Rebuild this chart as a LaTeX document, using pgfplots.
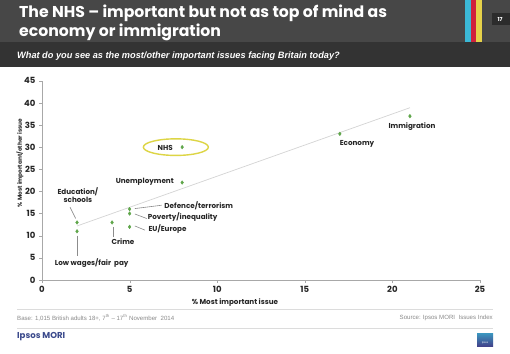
\documentclass[border=0pt]{standalone}
\usepackage{pgfplots}
\pgfplotsset{compat=1.18}
\usepackage{fontspec}
\setmainfont{Poppins}
\newfontfamily\arialf{Liberation Sans}
\definecolor{hdr}{HTML}{474747}
\definecolor{subh}{HTML}{333333}
\definecolor{pnbox}{HTML}{2C2C2C}
\definecolor{scyan}{HTML}{3BB8D6}
\definecolor{sred}{HTML}{D0213C}
\definecolor{syel}{HTML}{E6D24A}
\definecolor{axgray}{HTML}{A8A8A8}
\definecolor{trend}{HTML}{D4D4D4}
\definecolor{ptgreen}{HTML}{5FA64A}
\definecolor{lbl}{HTML}{262626}
\definecolor{ellip}{HTML}{DDD545}
\definecolor{ipsosblue}{HTML}{3B4A8C}
\definecolor{foot}{HTML}{8A8A8A}
\definecolor{fline}{HTML}{DCDCDC}
\definecolor{leader}{HTML}{8C8C8C}
\begin{document}
\begin{tikzpicture}[x=1pt,y=1pt]
\fill[white] (0,0) rectangle (510,353);
% header bands
\fill[hdr] (0,311) rectangle (510,353);
\fill[subh] (0,286) rectangle (510,311);
\fill[scyan] (465,311) rectangle (470.7,353);
\fill[sred] (470.7,311) rectangle (476,353);
\fill[syel] (476,311) rectangle (482,353);
\fill[pnbox] (492,328) rectangle (510,340);
\node[text=white, font=\bfseries\fontsize{5.5}{6}\selectfont] at (500,334) {17};
\node[anchor=base west, text=white, font=\bfseries\fontsize{15.7}{17}\selectfont, inner sep=0] at (19,335.7) {The NHS – important but not as top of mind as};
\node[anchor=base west, text=white, font=\bfseries\fontsize{15.7}{17}\selectfont, inner sep=0] at (19,316.3) {economy or immigration};
\node[anchor=base west, text=white, font=\arialf\bfseries\itshape\fontsize{9.2}{10}\selectfont, inner sep=0] at (17,294.7) {What do you see as the most/other important issues facing Britain today?};
% axis
\begin{axis}[at={(42pt,73pt)}, anchor=south west, scale only axis,
  width=438pt, height=199.3pt,
  xmin=0, xmax=25, ymin=0, ymax=45,
  axis x line*=bottom, axis y line*=left,
  axis line style={-, draw=axgray},
  xtick={0,5,...,25}, ytick={0,5,...,45},
  tick align=outside, major tick length=3pt,
  tick style={draw=axgray},
  tick label style={font=\bfseries\fontsize{8.5}{10}\selectfont, text=lbl},
  /pgf/number format/assume math mode=true,
  clip=false]
\addplot[line width=0.7pt, color=trend] coordinates {(2,12.2) (21,38.9)};
\addplot[leader, line width=0.6pt] coordinates {(1.60,16.43) (1.92,13.9)};
\addplot[leader, line width=0.6pt] coordinates {(2.0,10.0) (2.0,5.4)};
\addplot[leader, line width=0.6pt] coordinates {(4.05,12.0) (4.05,9.68)};
\addplot[leader, line width=0.6pt] coordinates {(5.3,16.13) (6.83,16.88)};
\addplot[leader, line width=0.6pt] coordinates {(5.3,14.9) (5.98,13.88)};
\addplot[leader, line width=0.6pt] coordinates {(5.3,12.2) (5.88,11.25)};
\addplot[only marks, mark=diamond*, mark size=1.8pt, color=ptgreen, fill=ptgreen] coordinates {
 (2,11) (2,13) (4,13) (5,16) (5,15) (5,12) (8,22) (8,30) (17,33) (21,37)};
\draw[ellip, line width=1.4pt] (axis cs:7.64,30) ellipse [x radius=32.5pt, y radius=8.3pt];
\tikzset{plbl/.style={font=\bfseries\fontsize{7.2}{8.7}\selectfont, text=lbl, inner sep=0}}
\node[plbl] at (axis cs:21.12,34.72) {Immigration};
\node[plbl] at (axis cs:17.98,30.83) {Economy};
\node[plbl, anchor=east] at (axis cs:7.48,29.86) {NHS};
\node[plbl, anchor=east] at (axis cs:7.53,22.28) {Unemployment};
\node[plbl, align=center] at (axis cs:2.05,19.2) {Education/\\schools};
\node[plbl, anchor=west] at (axis cs:6.98,16.81) {Defence/terrorism};
\node[plbl, anchor=west] at (axis cs:6.03,14.11) {Poverty/inequality};
\node[plbl, anchor=west] at (axis cs:6.07,11.41) {EU/Europe};
\node[plbl] at (axis cs:4.62,8.55) {Crime};
\node[plbl] at (axis cs:2.84,3.89) {Low wages/fair\ \ pay};
\end{axis}
% axis labels
\node[font=\bfseries\fontsize{7.2}{8}\selectfont, text=lbl] at (235,50) {\% Most important issue};
\node[font=\bfseries\fontsize{5.8}{7}\selectfont, text=lbl, rotate=90] at (20,190) {\% Most important/other issue};
% footer
\draw[fline, line width=0.6pt] (17,44) -- (493,44);
\draw[fline, line width=0.6pt] (17,25) -- (493,25);
\node[anchor=west, font=\arialf\fontsize{6.1}{7}\selectfont, text=foot, inner sep=0] at (17,35) {Base: 1,015 British adults 18+, 7\textsuperscript{th} – 17\textsuperscript{th} November\ \ 2014};
\node[anchor=east, font=\arialf\fontsize{6.1}{7}\selectfont, text=foot, inner sep=0] at (493,35) {Source: Ipsos MORI\ \ Issues Index};
\node[anchor=west, font=\fontsize{8.6}{9}\selectfont, text=ipsosblue, inner sep=0] at (17,16) {\textbf{Ipsos MORI}};
\shade[top color=scyan!70!ipsosblue, bottom color=ipsosblue!90!violet] (477,7) rectangle (493,20);
\node[font=\arialf\fontsize{2.6}{3}\selectfont, text=white, inner sep=0] at (485,10) {Ipsos};
\end{tikzpicture}
\end{document}
